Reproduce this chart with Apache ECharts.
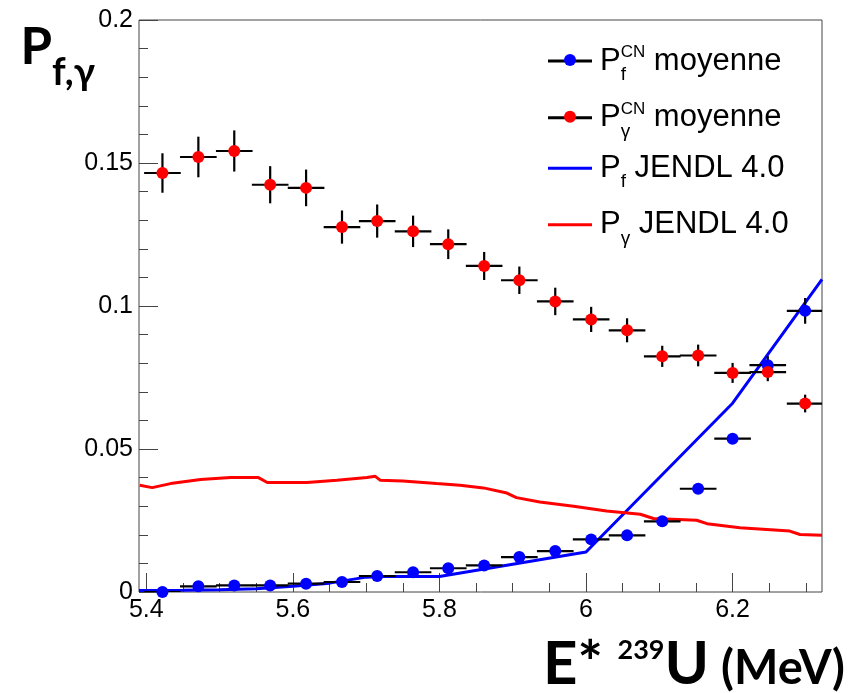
<!DOCTYPE html>
<html><head><meta charset="utf-8">
<script src="https://cdn.jsdelivr.net/npm/echarts@6/dist/echarts.min.js"></script>
<style>html,body{margin:0;padding:0;background:#fff}#c{width:850px;height:693px}</style>
</head><body><div id="c"></div>
<script>
// ---- data ----
const energyMeV = [5.422,5.471,5.520,5.569,5.618,5.667,5.715,5.764,5.812,5.861,5.909,5.958,6.007,6.056,6.104,6.153,6.200,6.248,6.299];
const energyHalfWidth = [0.025,0.025,0.025,0.025,0.025,0.025,0.025,0.025,0.025,0.025,0.025,0.025,0.025,0.025,0.025,0.025,0.025,0.025,0.025];
const pfMean = [0.0000,0.0020,0.0023,0.0023,0.0029,0.0035,0.0056,0.0069,0.0083,0.0093,0.0122,0.0143,0.0184,0.0198,0.0247,0.0361,0.0536,0.0793,0.0983];
const pfErr  = [0.0003,0.0003,0.0003,0.0003,0.0004,0.0004,0.0005,0.0005,0.0005,0.0006,0.0006,0.0006,0.0007,0.0007,0.0008,0.0008,0.0010,0.0032,0.0045];
const pgMean = [0.1465,0.1521,0.1542,0.1424,0.1413,0.1276,0.1297,0.1261,0.1216,0.1140,0.1090,0.1016,0.0953,0.0915,0.0824,0.0827,0.0766,0.0769,0.0659];
const pgErr  = [0.0069,0.0071,0.0072,0.0065,0.0064,0.0058,0.0058,0.0055,0.0052,0.0049,0.0048,0.0048,0.0044,0.0042,0.0037,0.0038,0.0035,0.0032,0.0031];
const jendlPfE = [5.39,5.45,5.50,5.55,5.60,5.65,5.70,5.72,5.80,6.00,6.20,6.322];
const jendlPf  = [0.0005,0.0006,0.0008,0.0011,0.0020,0.0031,0.0052,0.0054,0.0054,0.0140,0.0660,0.1093];
const jendlPgE = [5.391,5.408,5.433,5.474,5.515,5.553,5.565,5.619,5.660,5.701,5.712,5.719,5.750,5.796,5.828,5.860,5.892,5.905,5.937,5.983,6.028,6.074,6.092,6.151,6.165,6.210,6.278,6.292,6.322];
const jendlPg  = [0.0373,0.0365,0.0379,0.0393,0.0400,0.0400,0.0383,0.0383,0.0391,0.0400,0.0405,0.0391,0.0388,0.0379,0.0373,0.0364,0.0346,0.0330,0.0315,0.0300,0.0283,0.0272,0.0257,0.0251,0.0239,0.0225,0.0213,0.0201,0.0198];
const xMajorTicks = [5.4,5.6,5.8,6.0,6.2];
const xMinorTicks = [5.45,5.5,5.55,5.65,5.7,5.75,5.85,5.9,5.95,6.05,6.1,6.15,6.25,6.3];
const seriesNames = ['Pf CN moyenne','Pg CN moyenne','Pf JENDL 4.0','Pg JENDL 4.0'];
const legendLabels = [
  '{p|P}{sub|f}{sup|CN}{t| moyenne}',
  '{p|P}{sub|γ}{sup|CN}{t| moyenne}',
  '{p|P}{subw|f}{t| JENDL 4.0}',
  '{p|P}{subw|γ}{t| JENDL 4.0}'
];
// ---------------------------------------

const X_MIN = 5.39, X_MAX = 6.322;
const FRAME = '#444';
const SANS = 'Liberation Sans, Arial, Helvetica, sans-serif';

function errBarData(xs, ys, dxs, dys) {
  return xs.map((x, i) => [x, ys[i], dxs[i], dys[i]]);
}
function renderErr(params, api) {
  const x = api.value(0), y = api.value(1), dx = api.value(2), dy = api.value(3);
  const l = api.coord([x - dx, y]), r = api.coord([x + dx, y]);
  const t = api.coord([x, y + dy]), b = api.coord([x, y - dy]);
  const st = { stroke: '#000', lineWidth: 2.2 };
  return { type: 'group', children: [
    { type: 'line', shape: { x1: l[0], y1: l[1], x2: r[0], y2: r[1] }, style: st },
    { type: 'line', shape: { x1: t[0], y1: t[1], x2: b[0], y2: b[1] }, style: st }
  ]};
}
const LINE_ICON = 'path://M0,0H44V3H0Z';
const legendRich = {
  p: { fontFamily: SANS, fontSize: 31, color: '#000', lineHeight: 40, padding: [0, 0, 0, 3] },
  t: { fontFamily: SANS, fontSize: 31, color: '#000', lineHeight: 40 },
  sup: { fontFamily: SANS, fontSize: 17, color: '#000', verticalAlign: 'top', height: 23, lineHeight: 23 },
  sub: { fontFamily: SANS, fontSize: 19, color: '#000', verticalAlign: 'bottom', height: 12, lineHeight: 12, width: 0 },
  subw: { fontFamily: SANS, fontSize: 19, color: '#000', verticalAlign: 'bottom', height: 12, lineHeight: 12 }
};
const iconCenters = [60, 116.7, 171.7, 228.3];
const legends = [];
seriesNames.forEach((name, i) => {
  legends.push({
    left: 548, top: iconCenters[i] - 20 + 1, padding: 0, orient: 'vertical',
    itemWidth: 44, itemHeight: 40, selectedMode: false,
    data: [{ name: name, icon: LINE_ICON, itemStyle: { color: i < 2 ? '#000' : (i === 2 ? '#0000ff' : '#ff0000') } }],
    formatter: () => legendLabels[i],
    textStyle: { fontFamily: SANS, fontSize: 31, color: '#000', rich: legendRich }
  });
});
[0, 1].forEach(i => {
  legends.push({
    left: 564, top: iconCenters[i] - 6, padding: 0,
    itemWidth: 12, itemHeight: 12, selectedMode: false,
    data: [{ name: seriesNames[i], icon: 'circle', itemStyle: { color: i === 0 ? '#0000ff' : '#ff0000' } }],
    formatter: () => ''
  });
});

const chart = echarts.init(document.getElementById('c'), null, { renderer: 'canvas' });
chart.setOption({
  animation: false,
  backgroundColor: '#fff',
  grid: { left: 139, right: 28, top: 20, bottom: 101, show: true, borderColor: FRAME, borderWidth: 1,
          backgroundColor: 'transparent', containLabel: false, outerBoundsMode: 'none' },
  legend: legends,
  xAxis: [{
    type: 'value', min: X_MIN, max: X_MAX,
    axisLine: { show: false },
    splitLine: { show: false },
    axisTick: { show: true, inside: true, length: 19, customValues: xMajorTicks, lineStyle: { color: FRAME } },
    axisLabel: { customValues: xMajorTicks, fontFamily: SANS, fontSize: 25, color: '#000', margin: 6,
                 formatter: v => String(+(+v).toFixed(2)) },
    name: '{b|E* }{s|239}{b|U}{m|(MeV)}',
    nameLocation: 'end', nameGap: 23, nameMoveOverlap: false,
    nameTextStyle: { align: 'right', verticalAlign: 'top', padding: [38, 0, 0, 0],
      rich: {
        b: { fontFamily: 'Lato', fontWeight: 'bold', fontSize: 60, color: '#000', lineHeight: 70 },
        s: { fontFamily: 'Lato', fontWeight: 'bold', fontSize: 27, color: '#000', verticalAlign: 'top', height: 40, lineHeight: 40 },
        m: { fontFamily: 'Lato', fontWeight: 'bold', fontSize: 47, color: '#000', verticalAlign: 'bottom', height: 63, lineHeight: 63, padding: [0, 0, 0, 12] }
      } }
  }, {
    type: 'value', min: X_MIN, max: X_MAX, position: 'bottom',
    axisLine: { show: false }, splitLine: { show: false },
    axisLabel: { show: false },
    axisTick: { show: true, inside: true, length: 9, customValues: xMinorTicks, lineStyle: { color: FRAME } }
  }],
  yAxis: {
    type: 'value', min: 0, max: 0.2, interval: 0.05,
    axisLine: { show: false },
    splitLine: { show: false },
    axisTick: { show: true, inside: true, length: 19, lineStyle: { color: FRAME } },
    minorTick: { show: true, splitNumber: 5, length: 9, lineStyle: { color: FRAME } },
    axisLabel: { fontFamily: SANS, fontSize: 25, color: '#000', margin: 6 },
    name: '{p|P}{s|f,γ}',
    nameLocation: 'end', nameGap: 0, nameMoveOverlap: false,
    nameTextStyle: { align: 'right', verticalAlign: 'top', padding: [0, 44, 0, 0],
      rich: {
        p: { fontFamily: 'Lato', fontWeight: 'bold', fontSize: 51, color: '#000', lineHeight: 56 },
        s: { fontFamily: 'Lato', fontWeight: 'bold', fontSize: 38, color: '#000', verticalAlign: 'bottom', height: 6, lineHeight: 6 }
      } }
  },
  series: [
    { name: seriesNames[2], type: 'line', z: 1, showSymbol: false, silent: true, clip: true,
      data: jendlPfE.map((e, i) => [e, jendlPf[i]]), lineStyle: { color: '#0000ff', width: 3 }, itemStyle: { color: '#0000ff' } },
    { name: seriesNames[3], type: 'line', z: 1, showSymbol: false, silent: true, clip: true,
      data: jendlPgE.map((e, i) => [e, jendlPg[i]]), lineStyle: { color: '#ff0000', width: 3 }, itemStyle: { color: '#ff0000' } },
    { name: 'errPf', type: 'custom', z: 2, silent: true, clip: true, renderItem: renderErr, encode: { x: 0, y: 1 },
      data: errBarData(energyMeV, pfMean, energyHalfWidth, pfErr) },
    { name: 'errPg', type: 'custom', z: 2, silent: true, clip: true, renderItem: renderErr, encode: { x: 0, y: 1 },
      data: errBarData(energyMeV, pgMean, energyHalfWidth, pgErr) },
    { name: seriesNames[0], type: 'scatter', z: 3, symbol: 'circle', symbolSize: 12, silent: true,
      data: energyMeV.map((e, i) => [e, pfMean[i]]), itemStyle: { color: '#0000ff', opacity: 1 } },
    { name: seriesNames[1], type: 'scatter', z: 3, symbol: 'circle', symbolSize: 12, silent: true,
      data: energyMeV.map((e, i) => [e, pgMean[i]]), itemStyle: { color: '#ff0000', opacity: 1 } }
  ]
});
</script>
</body></html>
